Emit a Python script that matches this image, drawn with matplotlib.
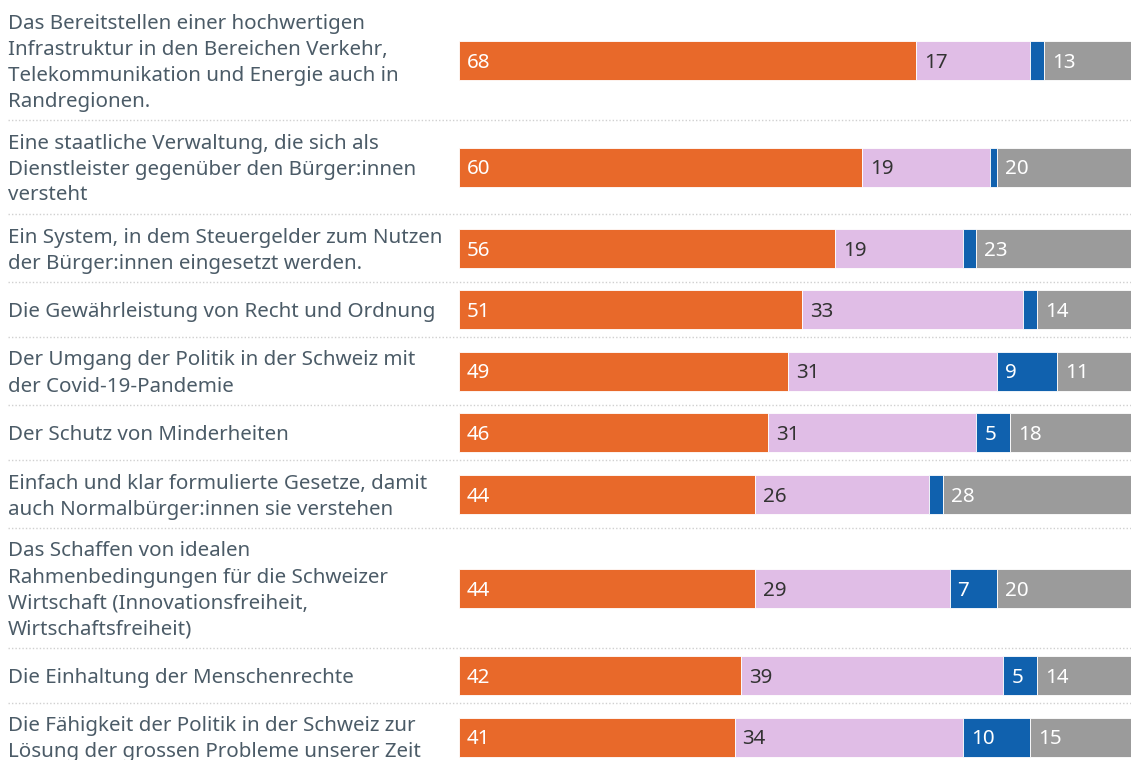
import matplotlib
matplotlib.use("Agg")
import matplotlib.pyplot as plt
import numpy as np

# ---- data ----
labels = [
    "Das Bereitstellen einer hochwertigen\nInfrastruktur in den Bereichen Verkehr,\nTelekommunikation und Energie auch in\nRandregionen.",
    "Eine staatliche Verwaltung, die sich als\nDienstleister gegenüber den Bürger:innen\nversteht",
    "Ein System, in dem Steuergelder zum Nutzen\nder Bürger:innen eingesetzt werden.",
    "Die Gewährleistung von Recht und Ordnung",
    "Der Umgang der Politik in der Schweiz mit\nder Covid-19-Pandemie",
    "Der Schutz von Minderheiten",
    "Einfach und klar formulierte Gesetze, damit\nauch Normalbürger:innen sie verstehen",
    "Das Schaffen von idealen\nRahmenbedingungen für die Schweizer\nWirtschaft (Innovationsfreiheit,\nWirtschaftsfreiheit)",
    "Die Einhaltung der Menschenrechte",
    "Die Fähigkeit der Politik in der Schweiz zur\nLösung der grossen Probleme unserer Zeit",
]
s1 = [68, 60, 56, 51, 49, 46, 44, 44, 42, 41]   # orange
s2 = [17, 19, 19, 33, 31, 31, 26, 29, 39, 34]   # lavender
s3 = [2, 1, 2, 2, 9, 5, 2, 7, 5, 10]            # blue
s4 = [13, 20, 23, 14, 11, 18, 28, 20, 14, 15]   # grey

series = [s1, s2, s3, s4]
colors = ["#E8692A", "#E0BDE6", "#1061AE", "#9B9B9B"]
text_colors = ["white", "#333333", "white", "white"]

FONT = "Noto Sans"
FS = 14.8
LABEL_COLOR = "#4B5B67"

W, H = 1131, 760
fig = plt.figure(figsize=(W / 100, H / 100), dpi=100)

# text / layout axes in pixel coordinates
tax = fig.add_axes([0, 0, 1, 1])
tax.set_xlim(0, W)
tax.set_ylim(H, 0)
tax.axis("off")

# bar axes (0..100 %)
bx0, bx1 = 459, 1131
bax = fig.add_axes([bx0 / W, 0, (bx1 - bx0) / W, 1])
bax.set_xlim(0, 100)
bax.set_ylim(H, 0)
bax.axis("off")

LINE = 26
BAR_H = 39
y = 0.0
centers = []
for lab in labels:
    n = lab.count("\n") + 1
    h = max(LINE * n + 16, 55)
    c = y + h / 2
    centers.append(c)
    lines = lab.split("\n")
    for i, ln in enumerate(lines):
        ly = c + (i - (n - 1) / 2) * LINE + 7.5
        tax.text(8, ly, ln, fontsize=FS, family=FONT, color=LABEL_COLOR,
                 va="baseline", ha="left")
    y += h
    # separator
    tax.plot([8, W], [y, y], color="#D0D0D0", lw=1, ls=(0, (1, 1.5)))

centers = np.array(centers)
left = np.zeros(len(labels))
for k, (vals, col, tc) in enumerate(zip(series, colors, text_colors)):
    vals = np.array(vals, dtype=float)
    bax.barh(centers, vals, left=left, height=BAR_H, color=col,
             edgecolor="white", linewidth=0.6)
    for c, l, v in zip(centers, left, vals):
        if v >= 4:
            bax.annotate(f"{int(v)}", xy=(l, c), xytext=(8, 0),
                         textcoords="offset pixels", fontsize=FS, family=FONT,
                         color=tc, va="center_baseline", ha="left")
    left += vals

fig.savefig("out.png", dpi=100)
